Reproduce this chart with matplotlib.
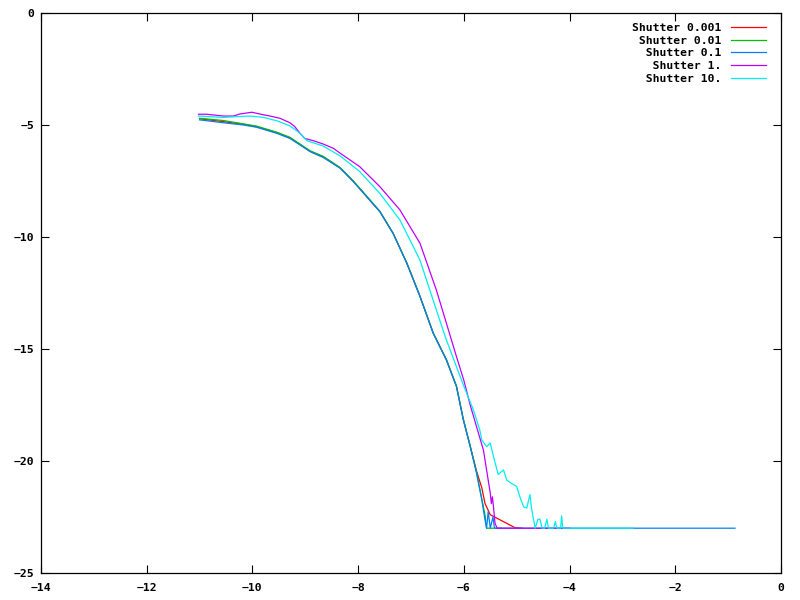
import matplotlib
matplotlib.use('Agg')
import matplotlib.pyplot as plt

# ── Data ────────────────────────────────────────────────────────────────
labels = ['Shutter 0.001', 'Shutter 0.01', 'Shutter 0.1', 'Shutter 1.', 'Shutter 10.']
colors = ['#ff0000', '#00c000', '#0080ff', '#c000ff', '#00eeee']

x_main = [-11.0, -10.55, -10.17, -9.92, -9.54, -9.29, -9.1, -8.91, -8.66, -8.34,
          -8.09, -7.84, -7.59, -7.34, -7.08, -6.83, -6.58, -6.33, -6.14, -6.01,
          -5.88, -5.76]
y_main_blue = [-4.77, -4.9, -5.0, -5.1, -5.37, -5.6, -5.89, -6.19, -6.45, -6.93,
               -7.53, -8.2, -8.87, -9.84, -11.17, -12.66, -14.3, -15.5, -16.68, -18.17,
               -19.36, -20.55]
y_main_green = [-4.7, -4.8, -4.95, -5.05, -5.32, -5.55, -5.85, -6.15, -6.4, -6.9,
                -7.5, -8.17, -8.85, -9.82, -11.15, -12.64, -14.28, -15.47, -16.65, -18.13,
                -19.32, -20.5]
y_main_red = [-4.72, -4.85, -4.97, -5.08, -5.35, -5.58, -5.87, -6.17, -6.43, -6.92,
              -7.52, -8.19, -8.86, -9.83, -11.16, -12.65, -14.29, -15.48, -16.66, -18.15,
              -19.34, -20.45]

x_red = x_main + [-5.66, -5.6, -5.5, -5.03, -4.9]
y_red = y_main_red + [-21.2, -21.9, -22.4, -22.98, -23.0]

x_green = x_main + [-5.66, -5.6, -5.57, -5.3]
y_green = y_main_green + [-21.7, -22.4, -23.0, -23.0]

x_blue = x_main + [-5.66, -5.6, -5.57, -5.54, -5.5, -5.45, -5.42, -0.87]
y_blue = y_main_blue + [-21.74, -22.63, -23.0, -22.26, -23.0, -22.5, -23.0, -23.0]

x_mag = [-11.02, -10.87, -10.55, -10.36, -10.24, -10.01, -9.86, -9.67, -9.48, -9.29,
         -9.2, -9.1, -9.01, -8.85, -8.66, -8.47, -8.34, -7.97, -7.59, -7.21,
         -6.83, -6.52, -6.33, -6.14, -6.0, -5.88, -5.76, -5.63, -5.57, -5.5,
         -5.48, -5.46, -5.44, -5.41, -5.37, -4.0]
y_mag = [-4.52, -4.52, -4.6, -4.6, -4.51, -4.43, -4.51, -4.6, -4.7, -4.9,
         -5.07, -5.37, -5.6, -5.7, -5.85, -6.04, -6.26, -6.86, -7.75, -8.79,
         -10.28, -12.37, -13.85, -15.34, -16.4, -17.5, -18.47, -19.51, -20.4, -21.44,
         -21.9, -21.6, -22.04, -22.78, -23.0, -23.0]

x_cyan = [-11.02, -10.55, -10.05, -9.79, -9.54, -9.29, -9.1, -8.97, -8.66, -8.34,
          -7.97, -7.59, -7.21, -6.83, -6.52, -6.33, -6.14, -6.01, -5.82, -5.7,
          -5.66, -5.57, -5.5, -5.44, -5.35, -5.25, -5.19, -5.1, -5.0, -4.94,
          -4.87, -4.81, -4.75, -4.72, -4.69, -4.65, -4.6, -4.56, -4.52, -4.47,
          -4.43, -4.4, -4.3, -4.27, -4.24, -4.17, -4.15, -4.13, -2.8]
y_cyan = [-4.6, -4.66, -4.6, -4.66, -4.81, -5.04, -5.37, -5.7, -5.94, -6.38,
          -7.08, -8.05, -9.24, -11.03, -13.26, -14.6, -15.79, -16.6, -17.72, -18.6,
          -19.06, -19.36, -19.2, -19.8, -20.6, -20.4, -20.85, -21.0, -21.14, -21.6,
          -22.04, -22.1, -21.5, -22.1, -22.5, -23.0, -22.6, -22.6, -23.0, -23.0,
          -22.6, -23.0, -23.0, -22.7, -23.0, -23.0, -22.45, -23.0, -23.0]

xs = [x_red, x_green, x_blue, x_mag, x_cyan]
ys = [y_red, y_green, y_blue, y_mag, y_cyan]

# ── Figure ───────────────────────────────────────────────────────────────
FONT = dict(family='DejaVu Sans Mono', weight='bold', size=8.2)
plt.rcParams['font.family'] = 'DejaVu Sans Mono'
plt.rcParams['font.weight'] = 'bold'
plt.rcParams['font.size'] = 8.2

fig = plt.figure(figsize=(8, 6), dpi=100)
ax = fig.add_axes([41 / 800, 1 - 573 / 600, 740 / 800, 560 / 600])

# right-align legend labels with leading spaces (monospace font)
width = max(len(l) for l in labels)
for x, y, c, lab in zip(xs, ys, colors, labels):
    ax.plot(x, y, color=c, lw=0.9, label=lab.rjust(width))

ax.set_xlim(-14, 0)
ax.set_ylim(-25, 0)
ax.set_xticks(range(-14, 1, 2))
ax.set_yticks(range(-25, 1, 5))
ax.tick_params(direction='in', length=6, width=0.8, top=True, right=True,
               labelsize=8.2, colors='black')
ax.tick_params(axis='x', pad=7)
ax.tick_params(axis='y', pad=5)
for s in ax.spines.values():
    s.set_linewidth(0.9)

leg = ax.legend(loc='upper right', bbox_to_anchor=(0.9797, 0.9827),
                markerfirst=False, frameon=False, borderpad=0, borderaxespad=0,
                handlelength=3.1, handletextpad=0.8, labelspacing=0.25,
                prop=FONT)

fig.savefig('out.png', dpi=100, facecolor='white')
plt.close(fig)
